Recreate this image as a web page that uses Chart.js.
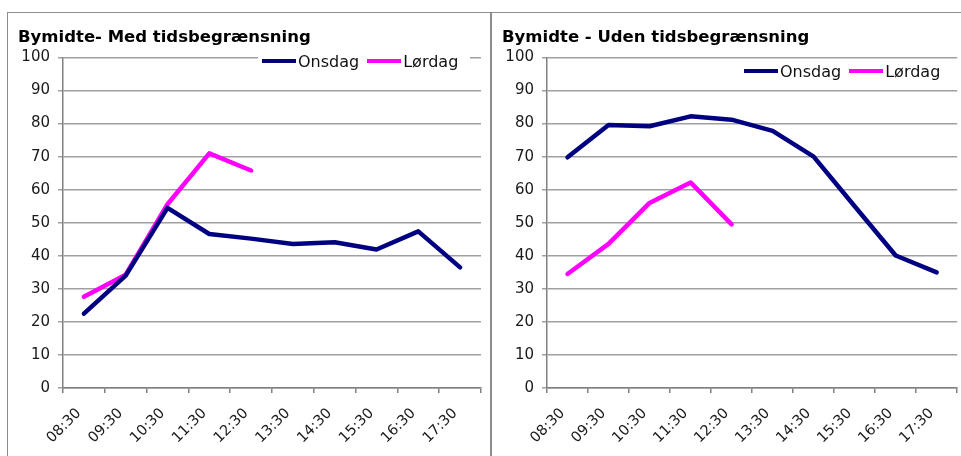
<!DOCTYPE html>
<html>
<head>
<meta charset="utf-8">
<script src="https://cdn.jsdelivr.net/npm/chart.js@4"></script>
<style>
  body { margin: 0; background: #fff; width: 961px; height: 456px; overflow: hidden; position: relative; font-family: 'DejaVu Sans', sans-serif; }
  .frame { position: absolute; top: 12px; height: 460px; border: 1.5px solid #8c8c8c; border-bottom: none; box-sizing: border-box; }
  canvas { position: absolute; }
  .legend { position: absolute; display: flex; align-items: center; height: 18px; font-size: 16px; color: #111; background: #fff; padding: 0 4px; }
  .legend .swatch { width: 34px; height: 4.5px; margin-right: 2px; }
  .legend .name { margin-right: 8px; }
</style>
</head>
<body>
<div class="frame" style="left:7px;width:484px"></div>
<div class="frame" style="left:491px;width:480px"></div>
<canvas id="med" width="478" height="442" style="left:10px;top:14px"></canvas>
<canvas id="uden" width="468" height="442" style="left:493px;top:14px"></canvas>
<div class="legend" id="legMed" style="left:258px;top:52px"></div>
<div class="legend" id="legUden" style="left:740px;top:62px"></div>
<script>
const times = ["08:30", "09:30", "10:30", "11:30", "12:30", "13:30", "14:30", "15:30", "16:30", "17:30"];
const seriesNames = ["Onsdag", "Lørdag"];
const seriesColors = ["#000080", "#ff00ff"];

// Bymidte - med tidsbegrænsning
const medOnsdag = [22.5, 34, 54.5, 46.6, 45.2, 43.6, 44.1, 41.9, 47.4, 36.5];
const medLoerdag = [27.6, 34.3, 55.6, 71, 65.8, null, null, null, null, null];

// Bymidte - uden tidsbegrænsning
const udenOnsdag = [69.8, 79.6, 79.2, 82.2, 81.2, 77.8, 70, 55, 40.1, 35];
const udenLoerdag = [34.5, 43.6, 56, 62.2, 49.5, null, null, null, null, null];

const yTicks = [0, 10, 20, 30, 40, 50, 60, 70, 80, 90, 100];

Chart.defaults.font.family = "'DejaVu Sans', sans-serif";
Chart.defaults.color = "#1a1a1a";

function makeChart(id, title, onsdag, loerdag, padLeft, padRight) {
  new Chart(document.getElementById(id), {
    type: "line",
    data: {
      labels: times,
      datasets: [onsdag, loerdag].map((d, i) => ({
        label: seriesNames[i],
        data: d,
        borderColor: seriesColors[i],
        backgroundColor: seriesColors[i],
        borderWidth: 4.5,
        pointRadius: 0,
        tension: 0,
        borderJoinStyle: "round",
        borderCapStyle: "round",
      })),
    },
    options: {
      responsive: false,
      animation: false,
      layout: { padding: { left: padLeft, right: padRight, top: 0, bottom: 0 } },
      plugins: {
        legend: { display: false },
        tooltip: { enabled: false },
        title: {
          display: true,
          text: title,
          align: "start",
          color: "#000",
          font: { size: 16.5, weight: "bold", lineHeight: 1.2 },
          padding: { top: 14.1, bottom: 9.6 },
        },
      },
      scales: {
        x: {
          offset: true,
          grid: { offset: true, drawOnChartArea: false, tickLength: 5, color: "#808080", lineWidth: 1.5 },
          border: { color: "#808080", width: 1.5 },
          ticks: { minRotation: 45, maxRotation: 45, autoSkip: false, font: { size: 14.5 }, padding: 12, labelOffset: -5 },
          afterFit: (s) => { s.height = 68; },
        },
        y: {
          min: 0,
          max: 100,
          afterBuildTicks: (s) => { s.ticks = yTicks.map((v) => ({ value: v })); },
          grid: { color: "#a0a0a0", lineWidth: 1.5, tickLength: 5 },
          border: { color: "#808080", width: 1.5 },
          ticks: { font: { size: 15 }, padding: 8 },
          afterFit: (s) => { s.width = 45; },
        },
      },
    },
  });
}

function makeLegend(id) {
  const el = document.getElementById(id);
  seriesNames.forEach((n, i) => {
    const sw = document.createElement("span");
    sw.className = "swatch";
    sw.style.background = seriesColors[i];
    const t = document.createElement("span");
    t.className = "name";
    t.textContent = n;
    el.appendChild(sw);
    el.appendChild(t);
  });
}

makeChart("med", "Bymidte- Med tidsbegrænsning", medOnsdag, medLoerdag, 8, 7);
makeChart("uden", "Bymidte - Uden tidsbegrænsning", udenOnsdag, udenLoerdag, 9, 0);
makeLegend("legMed");
makeLegend("legUden");
</script>
</body>
</html>
